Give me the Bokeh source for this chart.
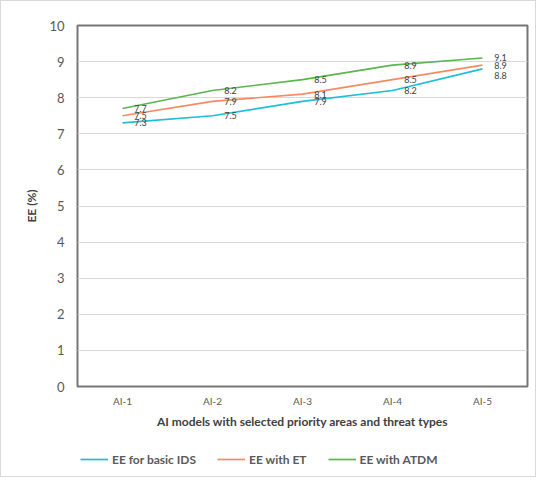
from bokeh.plotting import figure
from bokeh.layouts import column
from bokeh.models import ColumnDataSource, Legend, LegendItem, FixedTicker, Range1d
from bokeh.core.properties import value
from bokeh.embed import file_html
from bokeh.resources import INLINE

categories = ["AI-1", "AI-2", "AI-3", "AI-4", "AI-5"]
ee_basic_ids = [7.3, 7.5, 7.9, 8.2, 8.8]
ee_with_et = [7.5, 7.9, 8.1, 8.5, 8.9]
ee_with_atdm = [7.7, 8.2, 8.5, 8.9, 9.1]
y_ticks = [0, 1, 2, 3, 4, 5, 6, 7, 8, 9, 10]

FONT = "Lato"
series = [
    ("EE for basic IDS", ee_basic_ids, "#1cbfd4"),
    ("EE with ET", ee_with_et, "#f78a62"),
    ("EE with ATDM", ee_with_atdm, "#5cb54f"),
]

p = figure(width=534, height=435, output_backend="svg", toolbar_location=None,
           x_range=Range1d(-0.5, len(categories) - 0.5), y_range=Range1d(0, 10),
           min_border_left=76, min_border_top=24, min_border_right=8, min_border_bottom=50)

p.outline_line_color = "#767676"
p.outline_line_width = 2
p.xgrid.visible = False
p.ygrid.grid_line_color = "#d9d9d9"
p.ygrid.grid_line_width = 1

p.yaxis.ticker = FixedTicker(ticks=y_ticks)
p.xaxis.ticker = FixedTicker(ticks=list(range(len(categories))))
p.xaxis.major_label_overrides = {i: c for i, c in enumerate(categories)}
for ax in (p.xaxis[0], p.yaxis[0]):
    ax.axis_line_color = None
    ax.major_tick_line_color = None
    ax.minor_tick_line_color = None
    ax.major_label_text_color = "#595959"
    ax.major_label_text_font = FONT
    ax.axis_label_text_font = FONT
    ax.axis_label_text_font_style = "bold"
    ax.axis_label_text_color = "#404040"
p.yaxis.major_label_text_font_size = "13px"
p.yaxis.major_label_standoff = 7
p.yaxis.axis_label = "EE (%)"
p.yaxis.axis_label_text_font_size = "12px"
p.yaxis.axis_label_standoff = 7
p.xaxis.major_label_text_font_size = "10px"
p.xaxis.major_label_standoff = 2
p.xaxis.axis_label = "AI models with selected priority areas and threat types"
p.xaxis.axis_label_text_font_size = "12px"
p.xaxis.axis_label_standoff = 4

xs = list(range(len(categories)))
placed = {}
for name, vals, color in series:
    src = ColumnDataSource(dict(x=xs, y=vals))
    p.line("x", "y", source=src, line_color=color, line_width=1.7)
# data labels; shift a label down if it would collide with a higher one
for name, vals, color in reversed(series):
    offs = []
    for i, v in enumerate(vals):
        off = 0
        for (j, w) in placed.get(i, []):
            if abs(w - v) * 36 < 6:
                off = 7
        placed.setdefault(i, []).append((i, v))
        offs.append(off)
    src = ColumnDataSource(dict(x=xs, y=vals, lab=[f"{v:.1f}" for v in vals], off=offs))
    p.text("x", "y", text="lab", source=src, x_offset=18, y_offset="off",
           text_font=value(FONT), text_font_size="9px", text_color="#404040",
           text_align="center", text_baseline="middle")

# legend strip below the chart (its series lines lie outside its visible range)
p2 = figure(width=534, height=40, output_backend="svg", toolbar_location=None,
            x_axis_location=None, y_axis_location=None,
            x_range=Range1d(-0.5, len(categories) - 0.5), y_range=Range1d(100, 101),
            min_border_left=0, min_border_right=0, min_border_top=0, min_border_bottom=0)
p2.outline_line_color = None
p2.grid.visible = False
items = []
for name, vals, color in series:
    r = p2.line(x=xs, y=vals, line_color=color, line_width=1.7)
    items.append(LegendItem(label=name, renderers=[r]))
legend = Legend(items=items, orientation="horizontal", location=(3, 9),
                label_text_font=FONT, label_text_font_style="bold",
                label_text_font_size="12px", label_text_color="#595959",
                glyph_width=28, glyph_height=14, label_standoff=4, spacing=21,
                padding=4, margin=0, border_line_color=None, background_fill_alpha=0,
                label_height=16)
p2.add_layout(legend, "center")

layout = column(p, p2, spacing=0, styles={"border": "1px solid #d9d9d9"})
open("out.html", "w").write(file_html(layout, INLINE))
